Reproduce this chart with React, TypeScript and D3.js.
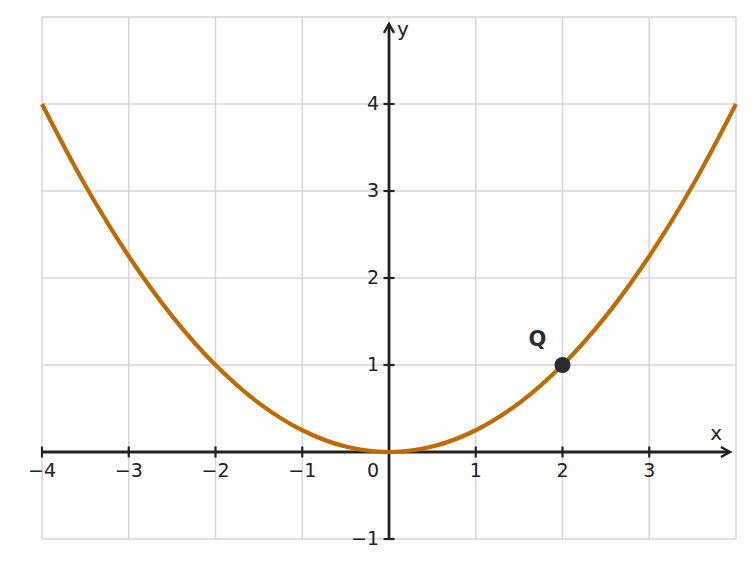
import React, { useRef, useEffect } from "react";
import * as d3 from "d3";

// 곡선 y = x^2 / 4 위의 점들 (x, y)
const curveX = [-4, -3.5, -3, -2.5, -2, -1.5, -1, -0.5, 0, 0.5, 1, 1.5, 2, 2.5, 3, 3.5, 4];
const curveY = [4, 3.0625, 2.25, 1.5625, 1, 0.5625, 0.25, 0.0625, 0, 0.0625, 0.25, 0.5625, 1, 1.5625, 2.25, 3.0625, 4];
const xTicks = [-4, -3, -2, -1, 1, 2, 3];
const yTicks = [-1, 1, 2, 3, 4];
const gridX = [-4, -3, -2, -1, 0, 1, 2, 3, 4];
const gridY = [-1, 0, 1, 2, 3, 4, 5];
const pointQ = { label: "Q", x: 2, y: 1 };

const W = 755;
const H = 567;

const App = () => {
  const ref = useRef<SVGSVGElement | null>(null);

  useEffect(() => {
    if (!ref.current) return;
    const svg = d3.select(ref.current);
    svg.selectAll("*").remove();

    const x = d3.scaleLinear().domain([-4, 4]).range([42, 736]);
    const y = d3.scaleLinear().domain([-1, 5]).range([539, 17]);
    const font = "DejaVu Sans, sans-serif";
    const axisColor = "#222222";

    // 격자
    const grid = svg.append("g").attr("stroke", "#d6d6d6").attr("stroke-width", 1.5);
    gridX.forEach((v) => {
      grid.append("line").attr("x1", x(v)).attr("x2", x(v)).attr("y1", y(-1)).attr("y2", y(5));
    });
    gridY.forEach((v) => {
      grid.append("line").attr("x1", x(-4)).attr("x2", x(4)).attr("y1", y(v)).attr("y2", y(v));
    });

    // 화살표 마커
    const defs = svg.append("defs");
    defs
      .append("marker")
      .attr("id", "arrow")
      .attr("viewBox", "0 0 12 12")
      .attr("refX", 10)
      .attr("refY", 6)
      .attr("markerWidth", 12)
      .attr("markerHeight", 12)
      .attr("markerUnits", "userSpaceOnUse")
      .attr("orient", "auto")
      .append("path")
      .attr("d", "M1,1 L10,6 L1,11")
      .attr("fill", "none")
      .attr("stroke", axisColor)
      .attr("stroke-width", 2.4)
      .attr("stroke-linejoin", "miter");

    // 축
    svg
      .append("line")
      .attr("x1", x(-4))
      .attr("x2", x(3.93))
      .attr("y1", y(0))
      .attr("y2", y(0))
      .attr("stroke", axisColor)
      .attr("stroke-width", 2.8)
      .attr("marker-end", "url(#arrow)");
    svg
      .append("line")
      .attr("x1", x(0))
      .attr("x2", x(0))
      .attr("y1", y(-1))
      .attr("y2", y(4.92))
      .attr("stroke", axisColor)
      .attr("stroke-width", 2.8)
      .attr("marker-end", "url(#arrow)");

    // 눈금
    xTicks.forEach((v) => {
      svg
        .append("line")
        .attr("x1", x(v))
        .attr("x2", x(v))
        .attr("y1", y(0) - 5.5)
        .attr("y2", y(0) + 5.5)
        .attr("stroke", axisColor)
        .attr("stroke-width", 2.2);
      svg
        .append("text")
        .attr("x", x(v))
        .attr("y", y(0) + 25)
        .attr("text-anchor", "middle")
        .attr("font-family", font)
        .attr("font-size", 19)
        .attr("fill", axisColor)
        .text(v < 0 ? `\u2212${-v}` : `${v}`);
    });
    yTicks.forEach((v) => {
      svg
        .append("line")
        .attr("x1", x(0) - 5.5)
        .attr("x2", x(0) + 5.5)
        .attr("y1", y(v))
        .attr("y2", y(v))
        .attr("stroke", axisColor)
        .attr("stroke-width", 2.2);
      svg
        .append("text")
        .attr("x", x(0) - 10)
        .attr("y", y(v) + 5.5)
        .attr("text-anchor", "end")
        .attr("font-family", font)
        .attr("font-size", 19)
        .attr("fill", axisColor)
        .text(v < 0 ? `\u2212${-v}` : `${v}`);
    });
    svg
      .append("text")
      .attr("x", x(0) - 10)
      .attr("y", y(0) + 25)
      .attr("text-anchor", "end")
      .attr("font-family", font)
      .attr("font-size", 19)
      .attr("fill", axisColor)
      .text("0");

    // 축 이름
    svg
      .append("text")
      .attr("x", x(3.77))
      .attr("y", y(0) - 12)
      .attr("text-anchor", "middle")
      .attr("font-family", font)
      .attr("font-size", 20)
      .attr("fill", axisColor)
      .text("x");
    svg
      .append("text")
      .attr("x", x(0) + 8)
      .attr("y", y(4.78))
      .attr("font-family", font)
      .attr("font-size", 20)
      .attr("fill", axisColor)
      .text("y");

    // 곡선
    const line = d3
      .line<number>()
      .x((d) => x(d))
      .y((_, i) => y(curveY[i]))
      .curve(d3.curveCatmullRom);
    svg
      .append("path")
      .attr("d", line(curveX) as string)
      .attr("fill", "none")
      .attr("stroke", "#c06a02")
      .attr("stroke-width", 4.2);

    // 점 Q
    svg
      .append("circle")
      .attr("cx", x(pointQ.x))
      .attr("cy", y(pointQ.y))
      .attr("r", 8)
      .attr("fill", "#2b2b33");
    svg
      .append("text")
      .attr("x", x(pointQ.x) - 25)
      .attr("y", y(pointQ.y) - 19)
      .attr("text-anchor", "middle")
      .attr("font-family", font)
      .attr("font-size", 21)
      .attr("font-weight", "bold")
      .attr("fill", "#2b2b33")
      .text(pointQ.label);
  }, []);

  return (
    <svg
      ref={ref}
      width={W}
      height={H}
      style={{ position: "absolute", left: 0, top: 0, background: "#ffffff" }}
    ></svg>
  );
};

export default App;
